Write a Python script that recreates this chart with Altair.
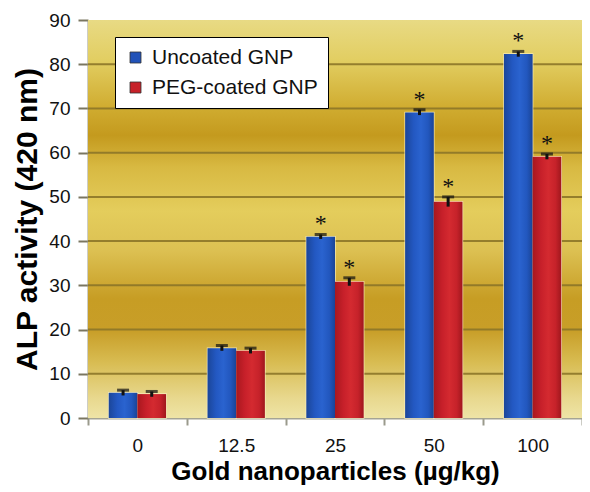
import altair as alt
import pandas as pd

doses = ["0", "12.5", "25", "50", "100"]
series_names = ["Uncoated GNP", "PEG-coated GNP"]
uncoated = [5.7, 15.8, 41.0, 69.1, 82.3]
peg = [5.4, 15.2, 30.8, 48.9, 59.1]
uncoated_err = [0.6, 0.6, 0.5, 0.6, 0.6]
peg_err = [0.6, 0.6, 0.9, 1.1, 0.6]
uncoated_sig = [False, False, True, True, True]
peg_sig = [False, False, True, True, True]
y_ticks = [0, 10, 20, 30, 40, 50, 60, 70, 80, 90]
grid_vals = [10, 20, 30, 40, 50, 60, 70, 80]

rows = []
for i, d in enumerate(doses):
    rows.append(dict(dose=d, series=series_names[0], value=uncoated[i],
                     err=uncoated_err[i], sig=uncoated_sig[i]))
    rows.append(dict(dose=d, series=series_names[1], value=peg[i],
                     err=peg_err[i], sig=peg_sig[i]))
df = pd.DataFrame(rows)
df["hi"] = df["value"] + df["err"]
df["lo"] = df["value"] - df["err"]

W, H = 494, 398
BLUE, RED = "#2152b8", "#c62129"

x_enc = alt.X(
    "dose:N", sort=doses,
    scale=alt.Scale(domain=doses, paddingInner=0, paddingOuter=0),
    axis=alt.Axis(title="Gold nanoparticles (µg/kg)", labelAngle=0,
                  tickBand="extent", tickSize=7, tickWidth=2, tickColor="#9a9a8c",
                  domainColor="#a4a494", domainWidth=2,
                  labelFont="Liberation Sans", labelFontSize=19, labelColor="#111",
                  labelPadding=11,
                  titleFont="Liberation Sans", titleFontSize=26, titleFontWeight="bold",
                  titleColor="#000", titlePadding=3),
)
xo_enc = alt.XOffset(
    "series:N", sort=series_names,
    scale=alt.Scale(domain=series_names, paddingInner=0, paddingOuter=0.724),
)
y_axis = alt.Axis(title="ALP activity (420 nm)", values=y_ticks, grid=False,
                  tickSize=10, tickWidth=2, tickColor="#7a7660",
                  domainColor="#9c9c8c", domainWidth=2,
                  labelFont="Liberation Sans", labelFontSize=19, labelColor="#111",
                  labelPadding=8,
                  titleFont="Liberation Sans", titleFontSize=30, titleFontWeight="bold",
                  titleColor="#000", titlePadding=6)
y_scale = alt.Scale(domain=[0, 90], nice=False, zero=True)

bg_grad = alt.Gradient(
    gradient="linear", x1=0, y1=0, x2=0, y2=1,
    stops=[
        alt.GradientStop(offset=0.0, color="#e8da84"),
        alt.GradientStop(offset=0.10, color="#e2ce62"),
        alt.GradientStop(offset=0.22, color="#d0ac30"),
        alt.GradientStop(offset=0.29, color="#c49a1e"),
        alt.GradientStop(offset=0.37, color="#d8b942"),
        alt.GradientStop(offset=0.48, color="#e4cd5c"),
        alt.GradientStop(offset=0.58, color="#dcc052"),
        alt.GradientStop(offset=0.70, color="#c79d24"),
        alt.GradientStop(offset=0.78, color="#c89e28"),
        alt.GradientStop(offset=0.86, color="#d8bc52"),
        alt.GradientStop(offset=0.95, color="#e8d88e"),
        alt.GradientStop(offset=1.0, color="#eee4a6"),
    ],
)

blue_grad = alt.Gradient(
    gradient="linear", x1=0, y1=0, x2=1, y2=0,
    stops=[
        alt.GradientStop(offset=0.0, color="#1b4699"),
        alt.GradientStop(offset=0.3, color="#2358c2"),
        alt.GradientStop(offset=0.55, color="#2a63cf"),
        alt.GradientStop(offset=0.8, color="#2257be"),
        alt.GradientStop(offset=1.0, color="#1a4496"),
    ],
)
red_grad = alt.Gradient(
    gradient="linear", x1=0, y1=0, x2=1, y2=0,
    stops=[
        alt.GradientStop(offset=0.0, color="#a8181e"),
        alt.GradientStop(offset=0.3, color="#c7202a"),
        alt.GradientStop(offset=0.55, color="#d42a30"),
        alt.GradientStop(offset=0.8, color="#c6222a"),
        alt.GradientStop(offset=1.0, color="#a0171d"),
    ],
)

background = alt.Chart(alt.Data(values=[{"k": 1}])).mark_rect(
    fill=bg_grad
).encode(x=alt.value(0), x2=alt.value(W), y=alt.value(0), y2=alt.value(H))

grid = alt.Chart(pd.DataFrame({"g": grid_vals})).mark_rule(
    color="#8c7628", strokeWidth=2, opacity=0.9
).encode(y=alt.Y("g:Q", scale=y_scale, axis=y_axis))

base = alt.Chart(df)

bars_plain = base.mark_bar(stroke="#fbf0c4", strokeWidth=1.5, strokeOpacity=0.8).encode(
    x=x_enc, xOffset=xo_enc,
    y=alt.Y("value:Q", scale=y_scale, axis=y_axis),
    color=alt.Color(
        "series:N", sort=series_names,
        scale=alt.Scale(domain=series_names, range=[BLUE, RED]),
        legend=alt.Legend(
            title=None, orient="none", legendX=27, legendY=17,
            fillColor="#ffffff", strokeColor="#000000",
            padding=10, rowPadding=8, symbolType="square", symbolSize=121,
            symbolStrokeColor="#333", symbolStrokeWidth=0.8,
            labelFont="Liberation Sans", labelFontSize=21, labelColor="#111",
            labelOffset=6, labelLimit=400, cornerRadius=0,
        ),
    ),
)

bars_blue = base.transform_filter(alt.datum.series == series_names[0]).mark_bar(
    fill=blue_grad).encode(
    x=x_enc, xOffset=xo_enc, y=alt.Y("value:Q", scale=y_scale, axis=y_axis))
bars_red = base.transform_filter(alt.datum.series == series_names[1]).mark_bar(
    fill=red_grad).encode(
    x=x_enc, xOffset=xo_enc, y=alt.Y("value:Q", scale=y_scale, axis=y_axis))

err_rule = base.mark_rule(color="#111", strokeWidth=3).encode(
    x=x_enc, xOffset=xo_enc,
    y=alt.Y("lo:Q", scale=y_scale, axis=y_axis), y2="hi:Q")
err_cap = base.mark_tick(color="#111", thickness=3, size=12).encode(
    x=x_enc, xOffset=xo_enc, y=alt.Y("hi:Q", scale=y_scale, axis=y_axis))

stars = base.transform_filter(alt.datum.sig).mark_text(
    text="*", font="Liberation Serif", fontSize=24, color="#111",
    baseline="alphabetic", dy=-3
).encode(x=x_enc, xOffset=xo_enc, y=alt.Y("hi:Q", scale=y_scale, axis=y_axis))

chart = alt.layer(
    background, grid, bars_plain, bars_blue, bars_red, err_rule, err_cap, stars
).properties(
    width=W, height=H,
    autosize=alt.AutoSizeParams(type="none"),
    padding={"left": 80, "top": 12, "right": 0, "bottom": 74},
).configure_view(
    stroke="#c4c0aa", strokeWidth=2
).configure_legend(
    strokeWidth=1.5
).configure(background="#ffffff")

chart.save("out.html", embed_options={"renderer": "svg", "actions": False})
